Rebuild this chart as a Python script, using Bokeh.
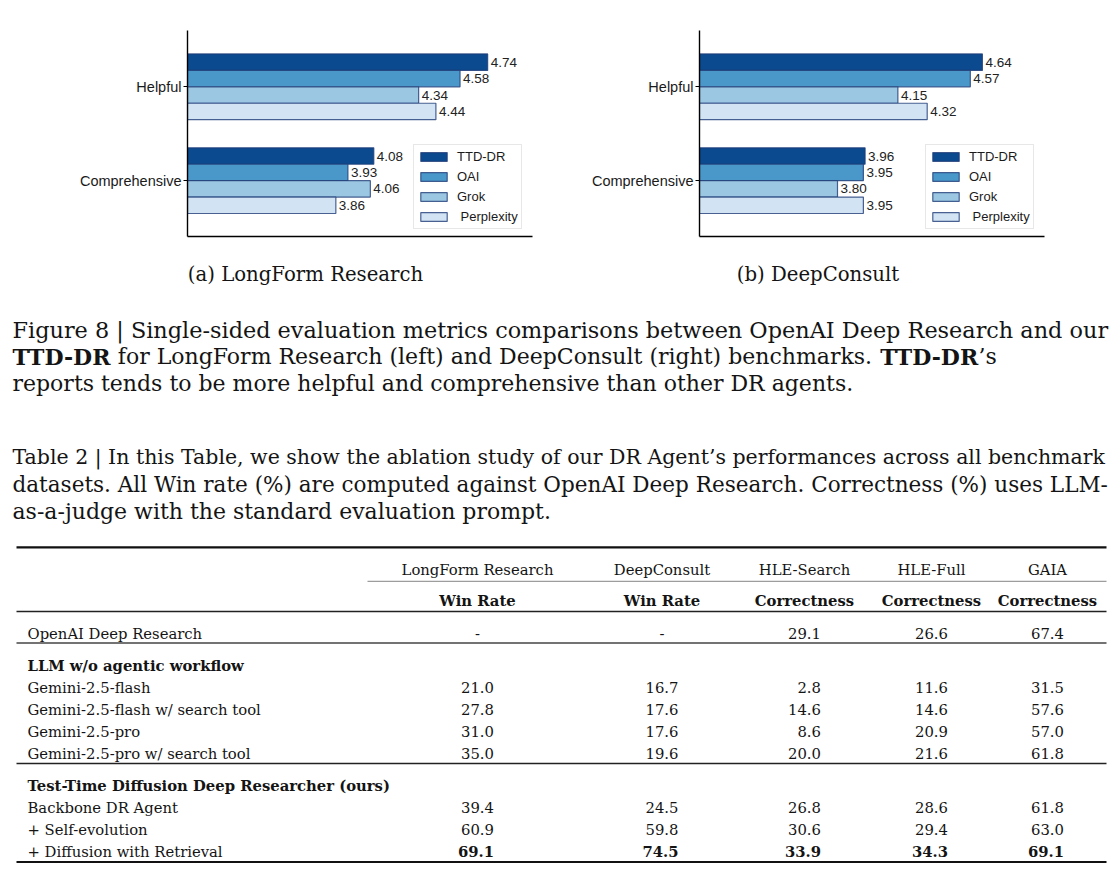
import glob
import os
import struct

from bokeh.plotting import figure
from bokeh.models import Range1d, ColumnDataSource, FixedTicker, Legend, LegendItem
from bokeh.layouts import column, row
from bokeh.embed import file_html
from bokeh.resources import INLINE
from bokeh.core.properties import value

# ------------------------------------------------------------------ data: bar charts
systems = ["TTD-DR", "OAI", "Grok", "Perplexity"]
legend_labels = ["TTD-DR", "OAI", "Grok", " Perplexity"]
criteria = ["Helpful", "Comprehensive"]

longform_ttd = [4.74, 4.08]
longform_oai = [4.58, 3.93]
longform_grok = [4.34, 4.06]
longform_perplexity = [4.44, 3.86]

deepconsult_ttd = [4.64, 3.96]
deepconsult_oai = [4.57, 3.95]
deepconsult_grok = [4.15, 3.80]
deepconsult_perplexity = [4.32, 3.95]

subcaptions = ["(a) LongForm Research", "(b) DeepConsult"]

# ------------------------------------------------------------------ data: captions
figure_caption = [
    [("Figure 8 | Single-sided evaluation metrics comparisons between OpenAI Deep Research and our", False)],
    [("TTD-DR", True), (" for LongForm Research (left) and DeepConsult (right) benchmarks. ", False),
     ("TTD-DR", True), ("\u2019s", False)],
    [("reports tends to be more helpful and comprehensive than other DR agents.", False)],
]
table_caption = [
    [("Table 2 | In this Table, we show the ablation study of our DR Agent\u2019s performances across all benchmark", False)],
    [("datasets. All Win rate (%) are computed against OpenAI Deep Research. Correctness (%) uses LLM-", False)],
    [("as-a-judge with the standard evaluation prompt.", False)],
]

# ------------------------------------------------------------------ data: table
table_benchmarks = ["LongForm Research", "DeepConsult", "HLE-Search", "HLE-Full", "GAIA"]
table_metrics = ["Win Rate", "Win Rate", "Correctness", "Correctness", "Correctness"]

openai_label = "OpenAI Deep Research"
openai_values = [None, None, 29.1, 26.6, 67.4]

llm_section = "LLM w/o agentic workflow"
llm_labels = ["Gemini-2.5-flash", "Gemini-2.5-flash w/ search tool",
              "Gemini-2.5-pro", "Gemini-2.5-pro w/ search tool"]
llm_longform = [21.0, 27.8, 31.0, 35.0]
llm_deepconsult = [16.7, 17.6, 17.6, 19.6]
llm_hle_search = [2.8, 14.6, 8.6, 20.0]
llm_hle_full = [11.6, 14.6, 20.9, 21.6]
llm_gaia = [31.5, 57.6, 57.0, 61.8]

ttd_section = "Test-Time Diffusion Deep Researcher (ours)"
ttd_labels = ["Backbone DR Agent", "+ Self-evolution", "+ Diffusion with Retrieval"]
ttd_longform = [39.4, 60.9, 69.1]
ttd_deepconsult = [24.5, 59.8, 74.5]
ttd_hle_search = [26.8, 30.6, 33.9]
ttd_hle_full = [28.6, 29.4, 34.3]
ttd_gaia = [61.8, 63.0, 69.1]
best_row = "+ Diffusion with Retrieval"

# ------------------------------------------------------------------ styles
bar_colors = ["#0b4a8e", "#4a98ca", "#9bc7e2", "#d2e3f3"]
bar_edge = "#1f3c78"
INK = "#141414"
SANS = "Liberation Sans"
SERIF = "DejaVu Serif"


# ------------------------------------------------------------------ font metrics (layout only)
def _find_font(fname):
    roots = ["/usr/share/fonts", "/usr/local/share/fonts",
             os.path.expanduser("~/.fonts"), os.path.expanduser("~/.local/share/fonts")]
    for r in roots:
        hits = glob.glob(os.path.join(r, "**", fname), recursive=True)
        if hits:
            return hits[0]
    return None


class Metrics:
    def __init__(self, fname, fallback):
        self.fallback = fallback
        self.ok = False
        path = _find_font(fname)
        if path:
            try:
                with open(path, "rb") as fh:
                    self._parse(fh.read())
                self.ok = len(self.cmap) > 50
            except Exception:
                self.ok = False

    def _parse(self, d):
        n = struct.unpack(">H", d[4:6])[0]
        t = {}
        for i in range(n):
            tag, _, off, _ln = struct.unpack(">4sIII", d[12 + 16 * i: 28 + 16 * i])
            t[tag.decode("latin-1")] = off
        self.upem = struct.unpack(">H", d[t["head"] + 18: t["head"] + 20])[0]
        nh = struct.unpack(">H", d[t["hhea"] + 34: t["hhea"] + 36])[0]
        hm = t["hmtx"]
        self.adv = [struct.unpack(">H", d[hm + 4 * i: hm + 4 * i + 2])[0] for i in range(nh)]
        co = t["cmap"]
        ns = struct.unpack(">H", d[co + 2: co + 4])[0]
        self.cmap = {}
        for i in range(ns):
            pid, eid, off = struct.unpack(">HHI", d[co + 4 + 8 * i: co + 12 + 8 * i])
            so = co + off
            fmt = struct.unpack(">H", d[so: so + 2])[0]
            if fmt != 4 or (pid, eid) not in ((3, 1), (0, 3)):
                continue
            segx2 = struct.unpack(">H", d[so + 6: so + 8])[0]
            seg = segx2 // 2
            ends = struct.unpack(">%dH" % seg, d[so + 14: so + 14 + segx2])
            starts = struct.unpack(">%dH" % seg, d[so + 16 + segx2: so + 16 + 2 * segx2])
            deltas = struct.unpack(">%dh" % seg, d[so + 16 + 2 * segx2: so + 16 + 3 * segx2])
            rpos = so + 16 + 3 * segx2
            ros = struct.unpack(">%dH" % seg, d[rpos: rpos + segx2])
            for s in range(seg):
                for c in range(starts[s], min(ends[s], 0x2200) + 1):
                    if ros[s] == 0:
                        g = (c + deltas[s]) & 0xFFFF
                    else:
                        a = rpos + 2 * s + ros[s] + 2 * (c - starts[s])
                        g = struct.unpack(">H", d[a: a + 2])[0]
                        if g:
                            g = (g + deltas[s]) & 0xFFFF
                    self.cmap[c] = g
            break

    def width(self, text, size):
        if not self.ok:
            return len(text) * self.fallback * size
        tot = 0
        for ch in text:
            g = self.cmap.get(ord(ch), 0)
            tot += self.adv[g] if g < len(self.adv) else self.adv[-1]
        return tot * size / self.upem


MR = Metrics("DejaVuSerif.ttf", 0.56)
MB = Metrics("DejaVuSerif-Bold.ttf", 0.62)

PAGE_W, TOP_H, LOW_H = 1112, 248, 623


# ------------------------------------------------------------------ bar charts
def bar_chart(series, border_left, border_right):
    p = figure(width=PAGE_W // 2, height=TOP_H, x_range=Range1d(3, 5), y_range=Range1d(-0.595, 1.6),
               output_backend="svg", toolbar_location=None,
               min_border_left=border_left, min_border_right=border_right,
               min_border_top=30, min_border_bottom=12)
    p.grid.visible = False
    p.outline_line_color = None
    p.background_fill_color = "white"
    p.border_fill_color = "white"

    crit_pos = [1, 0]                      # Helpful on top, Comprehensive below
    offsets = [0.2625, 0.0875, -0.0875, -0.2625]
    items = []
    for lab, vals, col, off in zip(legend_labels, series, bar_colors, offsets):
        src = ColumnDataSource(dict(y=[c + off for c in crit_pos], right=vals,
                                    txt=["%.2f" % v for v in vals]))
        r = p.hbar(y="y", right="right", left=0, height=0.175, source=src,
                   fill_color=col, line_color=bar_edge, line_alpha=0.8, line_width=1.2)
        p.text(x="right", y="y", text="txt", source=src, x_offset=3,
               text_baseline="middle", text_align="left",
               text_font=value(SANS), text_font_size=value("13.5px"), text_color="#222222")
        items.append(LegendItem(label=lab, renderers=[r]))

    yax = p.yaxis[0]
    yax.ticker = FixedTicker(ticks=crit_pos)
    yax.major_label_overrides = {1: criteria[0], 0: criteria[1]}
    yax.major_label_text_font = SANS
    yax.major_label_text_font_size = "14.5px"
    yax.major_label_text_color = "#1a1a1a"
    yax.major_label_standoff = 2
    yax.major_tick_in = 0
    yax.major_tick_out = 4
    yax.major_tick_line_color = "black"
    yax.minor_tick_line_color = None
    yax.axis_line_color = "black"
    yax.axis_line_width = 1.4

    xax = p.xaxis[0]
    xax.ticker = FixedTicker(ticks=[])
    xax.major_tick_line_color = None
    xax.minor_tick_line_color = None
    xax.major_label_text_font_size = "1px"
    xax.major_label_standoff = 0
    xax.major_tick_out = 0
    xax.axis_line_color = "black"
    xax.axis_line_width = 1.4

    legend = Legend(items=items, location=(226, 7))
    legend.label_text_font = SANS
    legend.label_text_font_size = "13px"
    legend.label_text_color = "#1a1a1a"
    legend.glyph_width = 33
    legend.glyph_height = 11
    legend.label_height = 17
    legend.label_standoff = 7
    legend.spacing = 3
    legend.padding = 3
    legend.margin = 0
    legend.border_line_color = "#cfcfcf"
    legend.border_line_width = 1
    legend.background_fill_alpha = 0.9
    p.add_layout(legend)
    return p


# frame: left chart x 187..532, right chart x 699..1044 (page pixels)
fig_a = bar_chart([longform_ttd, longform_oai, longform_grok, longform_perplexity], 187, 24)
fig_b = bar_chart([deepconsult_ttd, deepconsult_oai, deepconsult_grok, deepconsult_perplexity], 143, 68)

# ------------------------------------------------------------------ captions + table
low = figure(width=PAGE_W, height=LOW_H, x_range=Range1d(0, PAGE_W), y_range=Range1d(TOP_H + LOW_H, TOP_H),
             output_backend="svg", toolbar_location=None, min_border=0,
             x_axis_type=None, y_axis_type=None)
low.grid.visible = False
low.outline_line_color = None


def put(xs, ys, texts, size, bold=False, align="left"):
    src = ColumnDataSource(dict(x=xs, y=ys, t=texts))
    low.text(x="x", y="y", text="t", source=src, text_font=value(SERIF),
             text_font_size=value("%.2fpx" % size), text_font_style="bold" if bold else "normal",
             text_align=align, text_baseline="alphabetic", text_color=INK)


def place_runs(runs, x0, y, size):
    x = x0
    for text, bold in runs:
        m = MB if bold else MR
        lead = len(text) - len(text.lstrip(" "))
        trail = len(text) - len(text.rstrip(" "))
        core = text.strip(" ")
        x += m.width(" ", size) * lead
        put([x], [y], [core], size, bold)
        x += m.width(core, size) + m.width(" ", size) * trail


TEXT_X0, TEXT_X1 = 12, 1108


def line_width1(runs):
    return sum((MB if b else MR).width(t, 1.0) for t, b in runs)


s_cap = min(22.0, (TEXT_X1 - TEXT_X0) / line_width1(figure_caption[0]))

# subcaptions
put([305, 817.5], [273.5, 273.5], subcaptions, 19.7, align="center")

cap_base = [329, 356, 383]
for runs, yb, justified in zip(figure_caption, cap_base, [True, False, False]):
    s = s_cap
    if justified:
        s = min(s_cap * 1.03, (TEXT_X1 - TEXT_X0) / line_width1(runs))
    place_runs(runs, TEXT_X0, yb, s)

tab_base = [456.5, 483.5, 510.5]
for runs, yb, justified in zip(table_caption, tab_base, [True, True, False]):
    s = s_cap
    if justified:
        s = min(s_cap * 1.03, (TEXT_X1 - TEXT_X0) / line_width1(runs))
    place_runs(runs, TEXT_X0, yb, s)

# table geometry
S_TAB = 14.8
TAB_X0, TAB_X1 = 16, 1106
LABEL_X = 27
col_centers = [477, 661.5, 804, 931, 1047]
rules = dict(x0=[TAB_X0, 367, TAB_X0, TAB_X0, TAB_X0, TAB_X0],
             x1=[TAB_X1] * 6,
             y=[546.8, 580.8, 611.0, 642.5, 763.0, 861.5],
             w=[2.2, 0.9, 1.3, 1.6, 1.3, 2.2],
             c=["#111111", "#777777", "#222222", "#444444", "#222222", "#111111"])
rsrc = ColumnDataSource(rules)
low.segment(x0="x0", y0="y", x1="x1", y1="y", line_width="w", line_color="c", source=rsrc)

# header
put(col_centers, [569.3] * 5, table_benchmarks, S_TAB, align="center")
put(col_centers, [600.4] * 5, table_metrics, S_TAB, bold=True, align="center")

half_num = MR.width("00.0", S_TAB) / 2.0


def value_row(vals, yb, bold=False):
    xs_r, ys_r, ts_r, xs_c, ys_c, ts_c = [], [], [], [], [], []
    for cx, v in zip(col_centers, vals):
        if v is None:
            xs_c.append(cx); ys_c.append(yb); ts_c.append("-")
        else:
            xs_r.append(cx + half_num); ys_r.append(yb); ts_r.append("%.1f" % v)
    if ts_r:
        put(xs_r, ys_r, ts_r, S_TAB, bold=bold, align="right")
    if ts_c:
        put(xs_c, ys_c, ts_c, S_TAB, bold=bold, align="center")


# OpenAI row
put([LABEL_X], [633.3], [openai_label], S_TAB)
value_row(openai_values, 633.3)

# LLM section
put([LABEL_X], [665], [llm_section], S_TAB, bold=True)
llm_base = [687.2, 709.0, 730.9, 752.7]
put([LABEL_X] * 4, llm_base, llm_labels, S_TAB)
for i, yb in enumerate(llm_base):
    value_row([llm_longform[i], llm_deepconsult[i], llm_hle_search[i], llm_hle_full[i], llm_gaia[i]], yb)

# TTD section
put([LABEL_X], [785.3], [ttd_section], S_TAB, bold=True)
ttd_base = [807.1, 828.9, 850.8]
put([LABEL_X] * 3, ttd_base, ttd_labels, S_TAB)
for i, yb in enumerate(ttd_base):
    value_row([ttd_longform[i], ttd_deepconsult[i], ttd_hle_search[i], ttd_hle_full[i], ttd_gaia[i]],
              yb, bold=(ttd_labels[i] == best_row))

layout = column(row(fig_a, fig_b, spacing=0), low, spacing=0)

with open("out.html", "w") as f:
    f.write(file_html(layout, INLINE))
